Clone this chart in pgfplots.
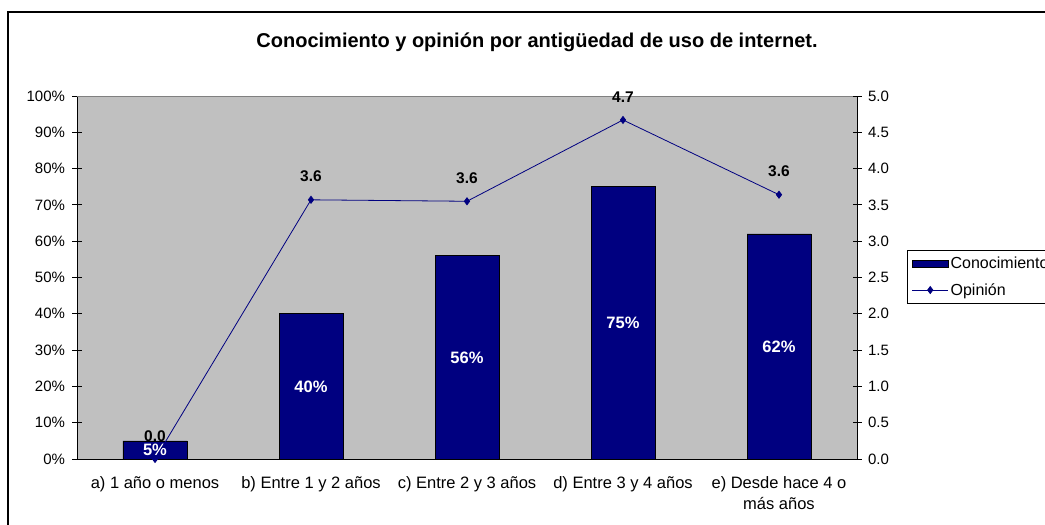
\documentclass[border=0pt]{standalone}
\usepackage{pgfplots}
\pgfplotsset{compat=1.18}
\usepackage{fontspec}
\setmainfont{Liberation Sans}
\definecolor{navy}{RGB}{0,0,128}
\definecolor{silver}{RGB}{192,192,192}
\begin{document}
\begin{tikzpicture}[x=1pt,y=1pt]
\pgfplotsset{
  common/.style={
    at={(77pt,66pt)}, anchor=south west,
    scale only axis, width=780pt, height=363pt,
    xmin=-0.5, xmax=4.5,
    /pgf/number format/assume math mode=true,
    tick style={black, line width=0.8pt},
    tick align=center, major tick length=9pt,
    ticklabel style={font=\fontsize{15}{21}\selectfont},
    axis line style={black, line width=0.8pt},
  }
}
\begin{axis}[common,
  axis x line*=bottom, axis y line*=left,
  axis background/.style={fill=silver},
  ymin=0, ymax=100, ytick={0,10,...,100},
  yticklabel={\pgfmathprintnumber{\tick}\%},
  yticklabel style={xshift=-4pt},
  xtick={0,...,4}, xticklabels={a) 1 año o menos, b) Entre 1 y 2 años, c) Entre 2 y 3 años, d) Entre 3 y 4 años, {e) Desde hace 4 o\\más años}},
  xticklabel style={align=center, yshift=-10pt, font=\fontsize{16.5}{21}\selectfont},
  x tick style={draw=none},
  minor xtick={-0.5,0.5,...,4.5}, minor tick length=10pt,
  minor x tick style={black, line width=0.8pt},
  legend style={at={(1.0635,0.5758)}, anchor=north west, draw=black, line width=0.6pt, fill=white,
    font=\fontsize{16}{18}\selectfont, row sep=9pt, inner sep=5pt,
    cells={anchor=west}},
]
\draw[gray, line width=0.8pt] (rel axis cs:0,1) -- (rel axis cs:1,1);
\addplot[ybar, bar width=64pt, fill=navy, draw=black, line width=0.6pt,
  visualization depends on={rawy \as \ry},
  nodes near coords={\pgfmathprintnumber{\pgfplotspointmeta}\%},
  every node near coord/.append style={anchor=center, text=white, font=\bfseries\fontsize{16.5}{18}\selectfont,
    shift={(axis direction cs:0,-\ry/2)}},
  legend image code/.code={\draw[fill=navy,draw=black,line width=0.6pt] (0pt,-3.5pt) rectangle (36pt,3.5pt);}
] coordinates {(0,5) (1,40) (2,56) (3,75) (4,62)};
\addlegendentry{Conocimiento}
\addlegendimage{navy, line width=0.8pt, mark=diamond*, mark size=3.5pt,
  legend image code/.code={\draw[navy,line width=0.8pt] (0pt,0pt) -- (36pt,0pt); \path[navy,fill=navy] plot[mark=diamond*, mark size=3.5pt] coordinates {(18pt,0pt)};}}
\addlegendentry{Opinión}
\end{axis}
\begin{axis}[common,
  axis y line*=right, axis x line=none,
  ymin=0, ymax=5, ytick={0,0.5,...,5},
  yticklabel style={xshift=3pt, /pgf/number format/fixed, /pgf/number format/fixed zerofill, /pgf/number format/precision=1},
]
\addplot[navy, line width=0.8pt, mark=diamond*, mark size=3.5pt,
  nodes near coords={\pgfmathprintnumber[fixed, fixed zerofill, precision=1]{\pgfplotspointmeta}},
  every node near coord/.append style={anchor=south, text=black, yshift=14pt, font=\bfseries\fontsize{15.5}{18}\selectfont}
] coordinates {(0,0.0) (1,3.57) (2,3.55) (3,4.67) (4,3.64)};
\end{axis}
\node[font=\bfseries\fontsize{20}{24}\selectfont] at (537pt,483pt) {Conocimiento y opinión por antigüedad de uso de internet.};
\draw[black, line width=1.2pt] (8pt,-20pt) -- (8pt,513pt) -- (1080pt,513pt);
\pgfresetboundingbox
\useasboundingbox (0pt,0pt) rectangle (1045pt,525pt);
\end{tikzpicture}
\end{document}
